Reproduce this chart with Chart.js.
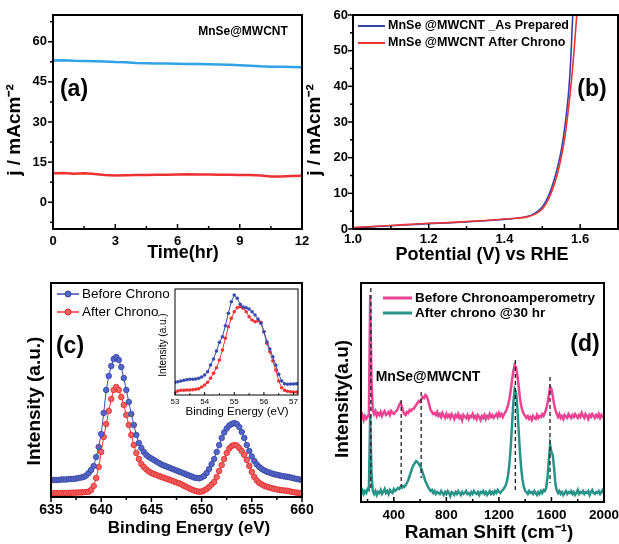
<!DOCTYPE html>
<html>
<head>
<meta charset="utf-8">
<script src="https://cdn.jsdelivr.net/npm/chart.js@4/dist/chart.umd.min.js"></script>
<style>
  body { margin: 0; background: #fff; }
  #wrap { position: relative; width: 619px; height: 544px; }
  #wrap canvas { position: absolute; left: 0; top: 0; }
</style>
</head>
<body>
<div id="wrap">
  <canvas id="chartA" width="619" height="544"></canvas>
  <canvas id="chartB" width="619" height="544"></canvas>
  <canvas id="chartC" width="619" height="544"></canvas>
  <canvas id="chartInset" width="619" height="544"></canvas>
  <canvas id="chartD" width="619" height="544"></canvas>
</div>
<script>
/* ==========================
   DATA
========================== */

// (a) chronoamperometry
const aHours = [0, 0.5, 1, 1.5, 2, 2.5, 3, 3.5, 4, 4.5, 5, 5.5, 6, 6.5, 7, 7.5, 8, 8.5, 9, 9.5, 10, 10.5, 11, 11.5, 12];
const aUpper = [53.0, 53.1, 52.9, 52.8, 52.7, 52.6, 52.4, 52.3, 52.1, 52.0, 51.9, 51.9, 51.8, 51.7, 51.7, 51.6, 51.5, 51.4, 51.2, 51.0, 50.8, 50.7, 50.7, 50.6, 50.5];
const aLower = [10.8, 10.9, 10.7, 10.8, 10.6, 10.2, 10.0, 10.1, 10.2, 10.2, 10.3, 10.3, 10.4, 10.5, 10.4, 10.4, 10.3, 10.3, 10.2, 10.2, 10.0, 9.6, 9.6, 9.8, 9.9];
const aTicksX = [0, 3, 6, 9, 12];
const aMinorX = [1.5, 4.5, 7.5, 10.5];
const aTicksY = [0, 15, 30, 45, 60];
const aMinorY = [-7.5, 7.5, 22.5, 37.5, 52.5, 67.5];

// (b) polarisation curves
const bPotential = [1.00, 1.05, 1.10, 1.15, 1.20, 1.25, 1.30, 1.35, 1.40, 1.43, 1.46, 1.48, 1.50, 1.51, 1.52, 1.53, 1.54, 1.55, 1.56, 1.57, 1.575, 1.58, 1.585, 1.59, 1.60];
const bPrepared = [0.3, 0.6, 0.9, 1.2, 1.5, 1.7, 2.0, 2.3, 2.7, 3.0, 3.5, 4.4, 6.2, 7.9, 10.2, 13.3, 17.2, 22.0, 29.0, 39.0, 47.0, 59.0, 70.0, 82.0, 100.0];
const bAfter = [0.4, 0.7, 1.0, 1.3, 1.6, 1.8, 2.1, 2.4, 2.8, 3.0, 3.4, 4.1, 5.6, 7.1, 9.2, 12.0, 15.5, 20.0, 26.0, 34.5, 39.5, 45.0, 51.5, 58.5, 75.0];
const bLabels = ["MnSe @MWCNT _As Prepared", "MnSe @MWCNT After Chrono"];
const bTicksX = [1.0, 1.2, 1.4, 1.6];
const bMinorX = [1.1, 1.3, 1.5, 1.7];
const bTicksY = [0, 10, 20, 30, 40, 50, 60];
const bMinorY = [5, 15, 25, 35, 45, 55];

// (c) XPS Mn 2p, 635 to 660 eV every 0.25 eV
const cStart = 635, cStep = 0.25;
const cBefore = [17, 17, 17, 17, 17.5, 17.5, 17.5, 18, 18, 18, 18.5, 19, 19.5,
  20, 21.5, 24, 27,
  31, 40, 50, 63, 84, 107, 121, 131, 138, 140, 137, 130, 119, 107, 95, 83,
  72, 62, 54, 49, 45, 42, 40, 38.5, 37, 35.5, 34, 32.5, 31.5, 30.5, 29.5, 28.5,
  27.5, 26.5, 25.5, 24.5, 23.5, 22.5, 21.5, 20.5, 19.5, 19, 18.7, 19.5,
  21, 24, 28, 33, 38, 45, 52, 59, 64.5, 68.5, 71.5, 73, 74, 73, 70, 65,
  59, 52, 46, 40.5, 36, 32.5, 30, 28, 26.5, 25.3, 24.5, 23.5,
  22.8, 22.2, 21.6, 21, 20.6, 20.3, 19.8, 19.3, 18.5, 18, 17.5, 17];
const cAfter = [3.7, 3.7, 3.8, 3.8, 3.9, 4, 4, 4.1, 4.2, 4.3, 4.4, 4.5, 4.6,
  4.8, 5, 5.2, 7,
  11, 19, 30, 45, 60, 73, 86, 98, 107, 110, 107, 100, 92, 82, 72, 62,
  52, 44, 38, 33, 30, 27.5, 25.5, 24, 23, 22, 21, 20, 19.2, 18.3, 17.5, 16.5,
  15.5, 14.5, 13.7, 12.5, 11.3, 10, 8.7, 7.5, 6.5, 5.8, 5.3, 5.5,
  6.5, 8, 10, 12.5, 15, 20, 26, 32, 38, 44, 48.5, 51, 52, 51.5, 49, 46,
  42, 37, 31, 25, 20, 16.5, 14, 12.5, 11.2, 10.3, 9.5, 8.8,
  8.2, 7.6, 7.1, 6.7, 6.5, 6.3, 5.8, 5.2, 4.7, 4.3, 4, 3.7];
const cLabels = ["Before Chrono", "After Chrono"];
const cTicksX = [635, 640, 645, 650, 655, 660];
const cMinorX = [637.5, 642.5, 647.5, 652.5, 657.5];

// (c) inset, 53.0 to 57.1 eV every 0.1 eV
const inStart = 53, inStep = 0.1;
const inBefore = [12.7, 13.3, 14, 14.7, 15.3, 15.7, 15.7, 16, 16.7, 18,
  20, 23.3, 30, 36, 44, 52.7, 58.3, 69.3, 81.7, 93.3,
  100, 96.7, 90.7, 88, 87.3, 86, 83.3, 80, 76, 71.7,
  63.3, 53.3, 46, 38.3, 30, 20.7, 14, 11.3, 10.7, 11,
  11, 11.3];
const inAfter = [2.7, 4, 4.7, 4.7, 5, 5, 5.3, 5.7, 6.3, 8,
  10, 12.7, 16.7, 21.7, 27.3, 35, 45, 56.7, 68.3, 76.7,
  83.3, 87.3, 88.3, 86.7, 83.3, 78.3, 75, 73.3, 74.3, 72.7,
  63.3, 51.7, 43.3, 34, 25, 14, 7.3, 4.7, 3.7, 3.3,
  3, 3];
const inTicksX = [53, 54, 55, 56, 57];
const inMinorX = [53.5, 54.5, 55.5, 56.5];

// (d) Raman, 150 to 2000 cm-1 every 10
const dStart = 150, dStep = 10;
const dBefore = [84, 87, 82, 86, 83, 85, 88, 207, 122, 92,
  88, 91, 86, 89, 87, 90, 86, 89, 91, 87,
  88, 90, 87, 91, 89, 88, 90, 91, 93, 97,
  99, 96, 91, 88, 87, 90, 89, 92, 91, 93,
  93, 95, 97, 99, 101, 100, 103, 105, 104, 107,
  106, 102, 97, 92, 90, 88, 89, 87, 90, 86,
  88, 85, 89, 86, 84, 88, 85, 87, 84, 88,
  86, 83, 87, 85, 88, 84, 86, 82, 87, 85,
  84, 87, 83, 86, 85, 88, 84, 86, 83, 87,
  85, 82, 86, 84, 87, 83, 86, 84, 88, 85,
  87, 84, 86, 88, 85, 89, 86, 88, 85, 88,
  90, 93, 97, 103, 112, 122, 131, 137, 135, 127,
  116, 104, 96, 91, 88, 86, 84, 86, 83, 85,
  82, 86, 84, 83, 87, 84, 86, 85, 88, 86,
  89, 93, 99, 107, 115, 113, 106, 98, 92, 88,
  85, 88, 84, 86, 83, 87, 85, 84, 88, 86,
  84, 87, 85, 88, 86, 84, 87, 85, 89, 86,
  84, 88, 86, 83, 87, 85, 88, 86, 84, 87,
  85, 88, 84, 87, 85, 86];
const dAfter = [10, 12, 8, 11, 9, 13, 12, 88, 28, 11,
  8, 11, 7, 10, 9, 12, 8, 10, 13, 9,
  11, 8, 12, 10, 9, 13, 11, 12, 14, 13,
  15, 14, 16, 15, 17, 19, 22, 26, 30, 34,
  37, 39, 41, 40, 38, 36, 33, 29, 25, 21,
  18, 15, 13, 11, 12, 9, 11, 8, 10, 9,
  8, 11, 9, 7, 10, 8, 11, 9, 6, 10,
  9, 7, 10, 8, 11, 9, 7, 10, 8, 9,
  11, 8, 9, 7, 10, 8, 11, 9, 8, 10,
  7, 10, 9, 11, 8, 10, 7, 9, 11, 8,
  10, 8, 11, 9, 12, 10, 9, 11, 12, 14,
  16, 20, 27, 38, 55, 78, 100, 113, 110, 95,
  72, 50, 33, 22, 15, 11, 10, 8, 11, 9,
  10, 8, 11, 9, 7, 10, 8, 11, 9, 12,
  11, 14, 25, 42, 57, 50, 47, 34, 18, 12,
  9, 11, 8, 10, 7, 9, 11, 8, 10, 9,
  11, 8, 10, 7, 9, 12, 8, 10, 9, 11,
  8, 10, 9, 11, 7, 10, 12, 9, 8, 10,
  9, 11, 8, 10, 12, 9];
const dLabels = ["Before Chronoamperometry", "After chrono @30 hr"];
const dPeakPos = [225, 456, 608, 1325, 1589];
const dPeakTop = [214, 102, 110, 142, 125];
const dPeakBottom = [14, 15, 24, 12, 19];
const dTicksX = [400, 800, 1200, 1600, 2000];
const dMinorX = [200, 600, 1000, 1400, 1800];

/* ==========================
   HELPERS
========================== */

const FONT = '"Liberation Sans", Arial, sans-serif';
const W = 619, H = 544, YW = 40, XH = 30;

function pts(xs, ys) {
    return ys.map((y, i) => ({ x: xs[i], y }));
}

function grid(start, step, n) {
    return Array.from({ length: n }, (_, i) => +(start + i * step).toFixed(3));
}

function xAxis(min, max, ticks, size, pad, fmt) {
    return {
        type: "linear", min, max,
        grid: { display: false, drawTicks: false },
        border: { display: false },
        ticks: {
            display: ticks.length > 0,
            color: "#000",
            padding: pad,
            maxRotation: 0,
            autoSkip: false,
            font: { family: FONT, size, weight: "bold" },
            callback: fmt || (v => v)
        },
        afterBuildTicks: s => { s.ticks = ticks.map(v => ({ value: v })); },
        afterFit: s => { s.height = XH; s.paddingLeft = 0; s.paddingRight = 0; }
    };
}

function yAxis(min, max, ticks, size, pad) {
    return {
        type: "linear", min, max,
        grid: { display: false, drawTicks: false },
        border: { display: false },
        ticks: {
            display: ticks.length > 0,
            color: "#000",
            padding: pad,
            font: { family: FONT, size, weight: "bold" }
        },
        afterBuildTicks: s => { s.ticks = ticks.map(v => ({ value: v })); },
        afterFit: s => { s.width = YW; s.paddingTop = 0; s.paddingBottom = 0; }
    };
}

function pad(area) {
    return { left: area.l - YW, top: area.t, right: W - area.r, bottom: H - area.b - XH };
}

const deco = {
    id: "deco",
    beforeDraw(chart, args, o) {
        if (!o.bg) return;
        const a = chart.chartArea, ctx = chart.ctx;
        ctx.save();
        ctx.fillStyle = "#fff";
        ctx.fillRect(a.left, a.top, a.right - a.left, a.bottom - a.top);
        ctx.restore();
    },
    afterDatasetsDraw(chart, args, o) {
        const ctx = chart.ctx, a = chart.chartArea;
        if (!o.frame) return;
        ctx.save();
        ctx.strokeStyle = "#000";

        const tickSet = (axis, spec) => {
            if (!spec) return;
            const s = chart.scales[axis];
            const len = spec.len || 5;
            ctx.lineWidth = spec.w || 1.5;
            const draw = (vals, l) => vals.forEach(v => {
                const p = s.getPixelForValue(v);
                ctx.beginPath();
                if (axis === "x") {
                    ctx.moveTo(p, a.bottom);
                    ctx.lineTo(p, a.bottom + (spec.dir === "in" ? -l : l));
                } else {
                    ctx.moveTo(a.left, p);
                    ctx.lineTo(a.left + (spec.dir === "in" ? l : -l), p);
                }
                ctx.stroke();
            });
            draw(spec.major, len);
            draw(spec.minor || [], len * 0.6);
        };
        tickSet("x", o.xt);
        tickSet("y", o.yt);

        ctx.lineWidth = o.frame;
        ctx.strokeRect(a.left, a.top, a.right - a.left, a.bottom - a.top);

        (o.keys || []).forEach(k => {
            const ds = chart.data.datasets[k.ds];
            ctx.strokeStyle = ds.borderColor;
            ctx.lineWidth = k.w;
            ctx.beginPath();
            ctx.moveTo(k.x1, k.y);
            ctx.lineTo(k.x2, k.y);
            ctx.stroke();
            if (k.dot) {
                ctx.fillStyle = ds.pointBackgroundColor;
                ctx.strokeStyle = ds.pointBorderColor;
                ctx.lineWidth = 1;
                ctx.beginPath();
                ctx.arc((k.x1 + k.x2) / 2, k.y, k.dot, 0, Math.PI * 2);
                ctx.fill();
                ctx.stroke();
            }
            ctx.fillStyle = "#000";
            ctx.font = k.font;
            ctx.textAlign = "left";
            ctx.textBaseline = "middle";
            ctx.fillText(ds.label, k.x2 + 3, k.y);
        });

        (o.texts || []).forEach(t => {
            ctx.save();
            ctx.fillStyle = "#000";
            ctx.font = (t.bold === false ? "" : "bold ") + t.size + "px " + FONT;
            ctx.textAlign = "center";
            ctx.textBaseline = "middle";
            ctx.translate(t.x, t.y);
            if (t.rot) ctx.rotate(-Math.PI / 2);
            ctx.fillText(t.t, 0, 0);
            ctx.restore();
        });
        ctx.restore();
    }
};

Chart.register(deco);

const base = {
    responsive: false,
    animation: false,
    events: []
};

/* ==========================
   (a) CHRONOAMPEROMETRY
========================== */

const areaA = { l: 53, t: 15, r: 302, b: 229 };

new Chart(document.getElementById("chartA"), {
    type: "line",
    data: {
        datasets: [
            { data: pts(aHours, aUpper), borderColor: "#2fa3e6", borderWidth: 2.5, pointRadius: 0 },
            { data: pts(aHours, aLower), borderColor: "#ee3232", borderWidth: 2.5, pointRadius: 0 }
        ]
    },
    options: {
        ...base,
        layout: { padding: pad(areaA) },
        scales: {
            x: xAxis(0, 12, aTicksX, 13, 5),
            y: yAxis(-10, 70, aTicksY, 13, 6)
        },
        plugins: {
            legend: { display: false },
            tooltip: { enabled: false },
            deco: {
                frame: 2,
                xt: { major: aTicksX, minor: aMinorX, dir: "in" },
                yt: { major: aTicksY, minor: aMinorY, dir: "out" },
                texts: [
                    { t: "MnSe@MWCNT", x: 243, y: 32, size: 12 },
                    { t: "(a)", x: 74, y: 90, size: 23 },
                    { t: "j / mAcm⁻²", x: 15, y: 130, size: 19, rot: true },
                    { t: "Time(hr)", x: 183, y: 253, size: 18 }
                ]
            }
        }
    }
});

/* ==========================
   (b) POLARISATION
========================== */

const areaB = { l: 353, t: 15, r: 618, b: 229 };

new Chart(document.getElementById("chartB"), {
    type: "line",
    data: {
        datasets: [
            { label: bLabels[0], data: pts(bPotential, bPrepared), borderColor: "#3545a8", borderWidth: 1.6, pointRadius: 0, cubicInterpolationMode: "monotone", order: 1 },
            { label: bLabels[1], data: pts(bPotential, bAfter), borderColor: "#ee3535", borderWidth: 1.6, pointRadius: 0, cubicInterpolationMode: "monotone", order: 0 }
        ]
    },
    options: {
        ...base,
        layout: { padding: pad(areaB) },
        scales: {
            x: xAxis(1.0, 1.7, bTicksX, 13, 3, v => v.toFixed(1)),
            y: yAxis(0, 60, bTicksY, 13, 5)
        },
        plugins: {
            legend: { display: false },
            tooltip: { enabled: false },
            deco: {
                frame: 2,
                xt: { major: bTicksX, minor: bMinorX, dir: "in" },
                yt: { major: bTicksY, minor: bMinorY, dir: "out" },
                keys: [
                    { ds: 0, x1: 358, x2: 385, y: 26, w: 2, font: "bold 12.5px " + FONT },
                    { ds: 1, x1: 358, x2: 385, y: 43, w: 2, font: "bold 12.5px " + FONT }
                ],
                texts: [
                    { t: "(b)", x: 592, y: 90, size: 23 },
                    { t: "j / mAcm⁻²", x: 315, y: 130, size: 19, rot: true },
                    { t: "Potential (V) vs RHE", x: 482, y: 255, size: 18 }
                ]
            }
        }
    }
});

/* ==========================
   (c) XPS
========================== */

const areaC = { l: 51, t: 283, r: 302, b: 497 };
const cEnergy = grid(cStart, cStep, cBefore.length);

new Chart(document.getElementById("chartC"), {
    type: "line",
    data: {
        datasets: [
            { label: cLabels[0], data: pts(cEnergy, cBefore), borderColor: "#3a4cb0", borderWidth: 1,
              pointRadius: 2.8, pointBorderWidth: 0.8, pointBackgroundColor: "#5566c8", pointBorderColor: "#33449e" },
            { label: cLabels[1], data: pts(cEnergy, cAfter), borderColor: "#ee3434", borderWidth: 1,
              pointRadius: 2.8, pointBorderWidth: 0.8, pointBackgroundColor: "#f46060", pointBorderColor: "#e02828" }
        ]
    },
    options: {
        ...base,
        layout: { padding: pad(areaC) },
        scales: {
            x: xAxis(635, 660, cTicksX, 14, 5),
            y: yAxis(0, 214, [], 13, 5)
        },
        plugins: {
            legend: { display: false },
            tooltip: { enabled: false },
            deco: {
                frame: 2,
                xt: { major: cTicksX, minor: cMinorX, dir: "out" },
                keys: [
                    { ds: 0, x1: 57, x2: 79, y: 294, w: 1.5, dot: 3, font: "13.5px " + FONT },
                    { ds: 1, x1: 57, x2: 79, y: 312, w: 1.5, dot: 3, font: "13.5px " + FONT }
                ],
                texts: [
                    { t: "(c)", x: 70, y: 347, size: 23 },
                    { t: "Intensity (a.u.)", x: 35, y: 401, size: 19, rot: true },
                    { t: "Binding Energy (eV)", x: 189, y: 528, size: 17 }
                ]
            }
        }
    }
});

/* ==========================
   (c) INSET
========================== */

const areaIn = { l: 175, t: 289, r: 298, b: 395 };
const inEnergy = grid(inStart, inStep, inBefore.length);

new Chart(document.getElementById("chartInset"), {
    type: "line",
    data: {
        datasets: [
            { data: pts(inEnergy, inBefore), borderColor: "#3a4cb0", borderWidth: 1,
              pointRadius: 1.8, pointBorderWidth: 0, pointBackgroundColor: "#3a4cb0" },
            { data: pts(inEnergy, inAfter), borderColor: "#ee3434", borderWidth: 1,
              pointRadius: 1.8, pointBorderWidth: 0, pointBackgroundColor: "#ee3434" }
        ]
    },
    options: {
        ...base,
        layout: { padding: pad(areaIn) },
        scales: {
            x: {
                ...xAxis(53, 57.15, inTicksX, 8, 2),
                ticks: { color: "#000", padding: 2, maxRotation: 0, autoSkip: false, font: { family: FONT, size: 8 } }
            },
            y: yAxis(0, 106, [], 8, 2)
        },
        plugins: {
            legend: { display: false },
            tooltip: { enabled: false },
            deco: {
                bg: true,
                frame: 1,
                xt: { major: inTicksX, minor: inMinorX, dir: "in", len: 3, w: 1 },
                texts: [
                    { t: "Binding Energy (eV)", x: 237, y: 412, size: 11.5, bold: false },
                    { t: "Intensity (a.u.)", x: 163, y: 345, size: 10, bold: false, rot: true }
                ]
            }
        }
    }
});

/* ==========================
   (d) RAMAN
========================== */

const areaD = { l: 361, t: 283, r: 604, b: 502 };
const dShift = grid(dStart, dStep, dBefore.length);

const dMarkers = dPeakPos.map((x, i) => ({
    data: [{ x, y: dPeakTop[i] }, { x, y: dPeakBottom[i] }],
    borderColor: "#222",
    borderWidth: 1.3,
    borderDash: [4, 3],
    pointRadius: 0,
    order: -1
}));

new Chart(document.getElementById("chartD"), {
    type: "line",
    data: {
        datasets: [
            { label: dLabels[0], data: pts(dShift, dBefore), borderColor: "#ec4392", borderWidth: 2.5, pointRadius: 0, order: 1 },
            { label: dLabels[1], data: pts(dShift, dAfter), borderColor: "#2a9389", borderWidth: 2.5, pointRadius: 0, order: 2 },
            ...dMarkers
        ]
    },
    options: {
        ...base,
        layout: { padding: pad(areaD) },
        scales: {
            x: xAxis(150, 2000, dTicksX, 13.5, 5),
            y: yAxis(0, 219, [], 13, 5)
        },
        plugins: {
            legend: { display: false },
            tooltip: { enabled: false },
            deco: {
                frame: 2,
                xt: { major: dTicksX, minor: dMinorX, dir: "in" },
                keys: [
                    { ds: 0, x1: 383, x2: 412, y: 298, w: 3, font: "bold 13.5px " + FONT },
                    { ds: 1, x1: 383, x2: 412, y: 313, w: 3, font: "bold 13.5px " + FONT }
                ],
                texts: [
                    { t: "(d)", x: 585, y: 345, size: 23 },
                    { t: "MnSe@MWCNT", x: 428, y: 377, size: 14 },
                    { t: "Intensity(a.u)", x: 343, y: 399, size: 19, rot: true },
                    { t: "Raman Shift (cm⁻¹)", x: 489, y: 533, size: 19 }
                ]
            }
        }
    }
});
</script>
</body>
</html>
